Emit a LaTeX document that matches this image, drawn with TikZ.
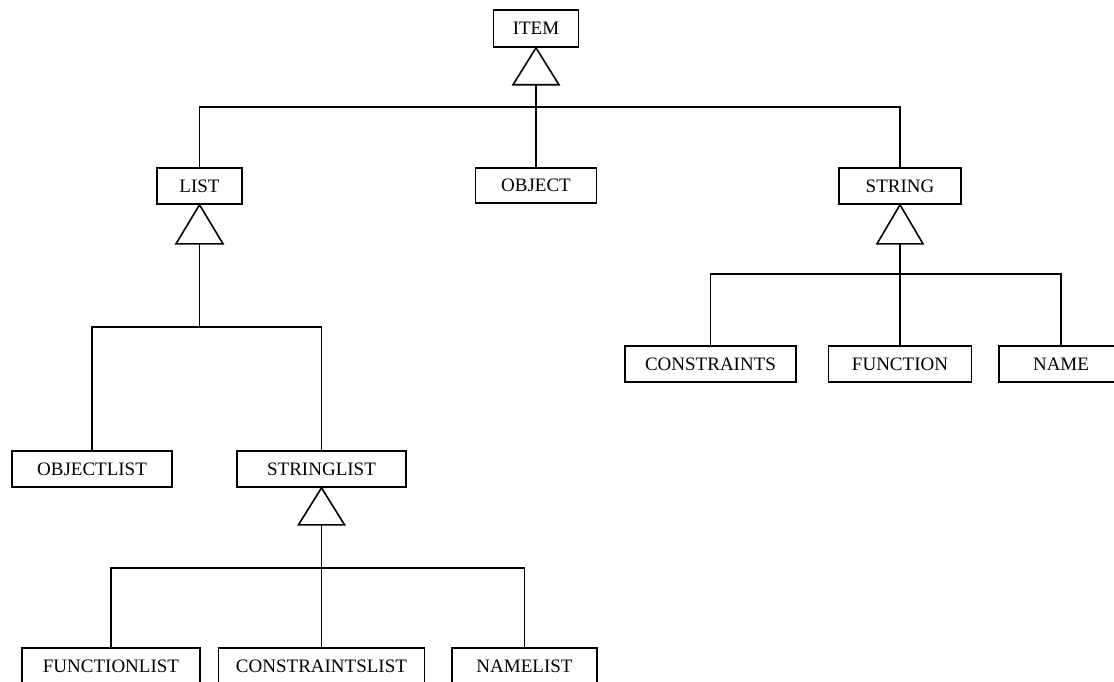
\documentclass[tikz,border=0pt]{standalone}
\usepackage{fontspec}
\setmainfont{Liberation Serif}
\begin{document}
\begin{tikzpicture}[x=1pt,y=-1pt,
  line width=1.6pt,
  classbox/.style={draw, rectangle, inner sep=0pt, minimum height=36pt,
    font=\fontsize{19}{19}\selectfont},
  hollowtri/.style={draw, fill=white, line join=miter}]
  \useasboundingbox (0,0) rectangle (1114,682);
  \fill[white] (0,0) rectangle (1114,682);
  \clip (0,0) rectangle (1114,682);

  % classes
  \node[classbox, minimum width=85pt, minimum height=37pt] (item) at (536,28.5) {ITEM};
  \node[classbox, minimum width=85pt]  (list)   at (199.5,186) {LIST};
  \node[classbox, minimum width=121pt, minimum height=35pt] (object) at (536,185.5) {OBJECT};
  \node[classbox, minimum width=122pt] (string) at (900,186)   {STRING};
  \node[classbox, minimum width=171pt] (constraints) at (710.5,364) {CONSTRAINTS};
  \node[classbox, minimum width=143pt] (function)    at (900,364)   {FUNCTION};
  \node[classbox, minimum width=124pt] (name)        at (1061,364)  {NAME};
  \node[classbox, minimum width=160pt] (objectlist)  at (92,469)    {OBJECTLIST};
  \node[classbox, minimum width=169pt] (stringlist)  at (321.5,469) {STRINGLIST};
  \node[classbox, minimum width=178pt] (functionlist)    at (111,666)   {FUNCTIONLIST};
  \node[classbox, minimum width=206pt] (constraintslist) at (321.5,666) {CONSTRAINTSLIST};
  \node[classbox, minimum width=145pt] (namelist)        at (524.5,666) {NAMELIST};

  % generalisation triangles under each parent
  \draw[hollowtri] (item.south) -- ++(-23,37) -- ++(46,0) -- cycle;
  \path (item.south) ++(0,37) coordinate (itembase);
  \draw[hollowtri] (list.south) -- ++(-23.5,39) -- ++(47,0) -- cycle;
  \path (list.south) ++(0,39) coordinate (listbase);
  \draw[hollowtri] (string.south) -- ++(-23,39) -- ++(46,0) -- cycle;
  \path (string.south) ++(0,39) coordinate (stringbase);
  \draw[hollowtri] (stringlist.south) -- ++(-23,37) -- ++(46,0) -- cycle;
  \path (stringlist.south) ++(0,37) coordinate (stringlistbase);

  % bus junctions
  \coordinate (itembus) at (536,107);
  \coordinate (listbus) at (199.5,327);
  \coordinate (stringbus) at (900,274);
  \coordinate (stringlistbus) at (321.5,568);

  % ITEM hierarchy
  \draw (itembase) -- (itembus) -- (object.north);
  \draw (list.north) |- (itembus) -| (string.north);

  % LIST hierarchy
  \draw (listbase) -- (listbus);
  \draw (objectlist.north) |- (listbus) -| (stringlist.north);

  % STRING hierarchy
  \draw (stringbase) -- (stringbus) -- (function.north);
  \draw (constraints.north) |- (stringbus) -| (name.north);

  % STRINGLIST hierarchy
  \draw (stringlistbase) -- (stringlistbus) -- (constraintslist.north);
  \draw (functionlist.north) |- (stringlistbus) -| (namelist.north);
\end{tikzpicture}
\end{document}
